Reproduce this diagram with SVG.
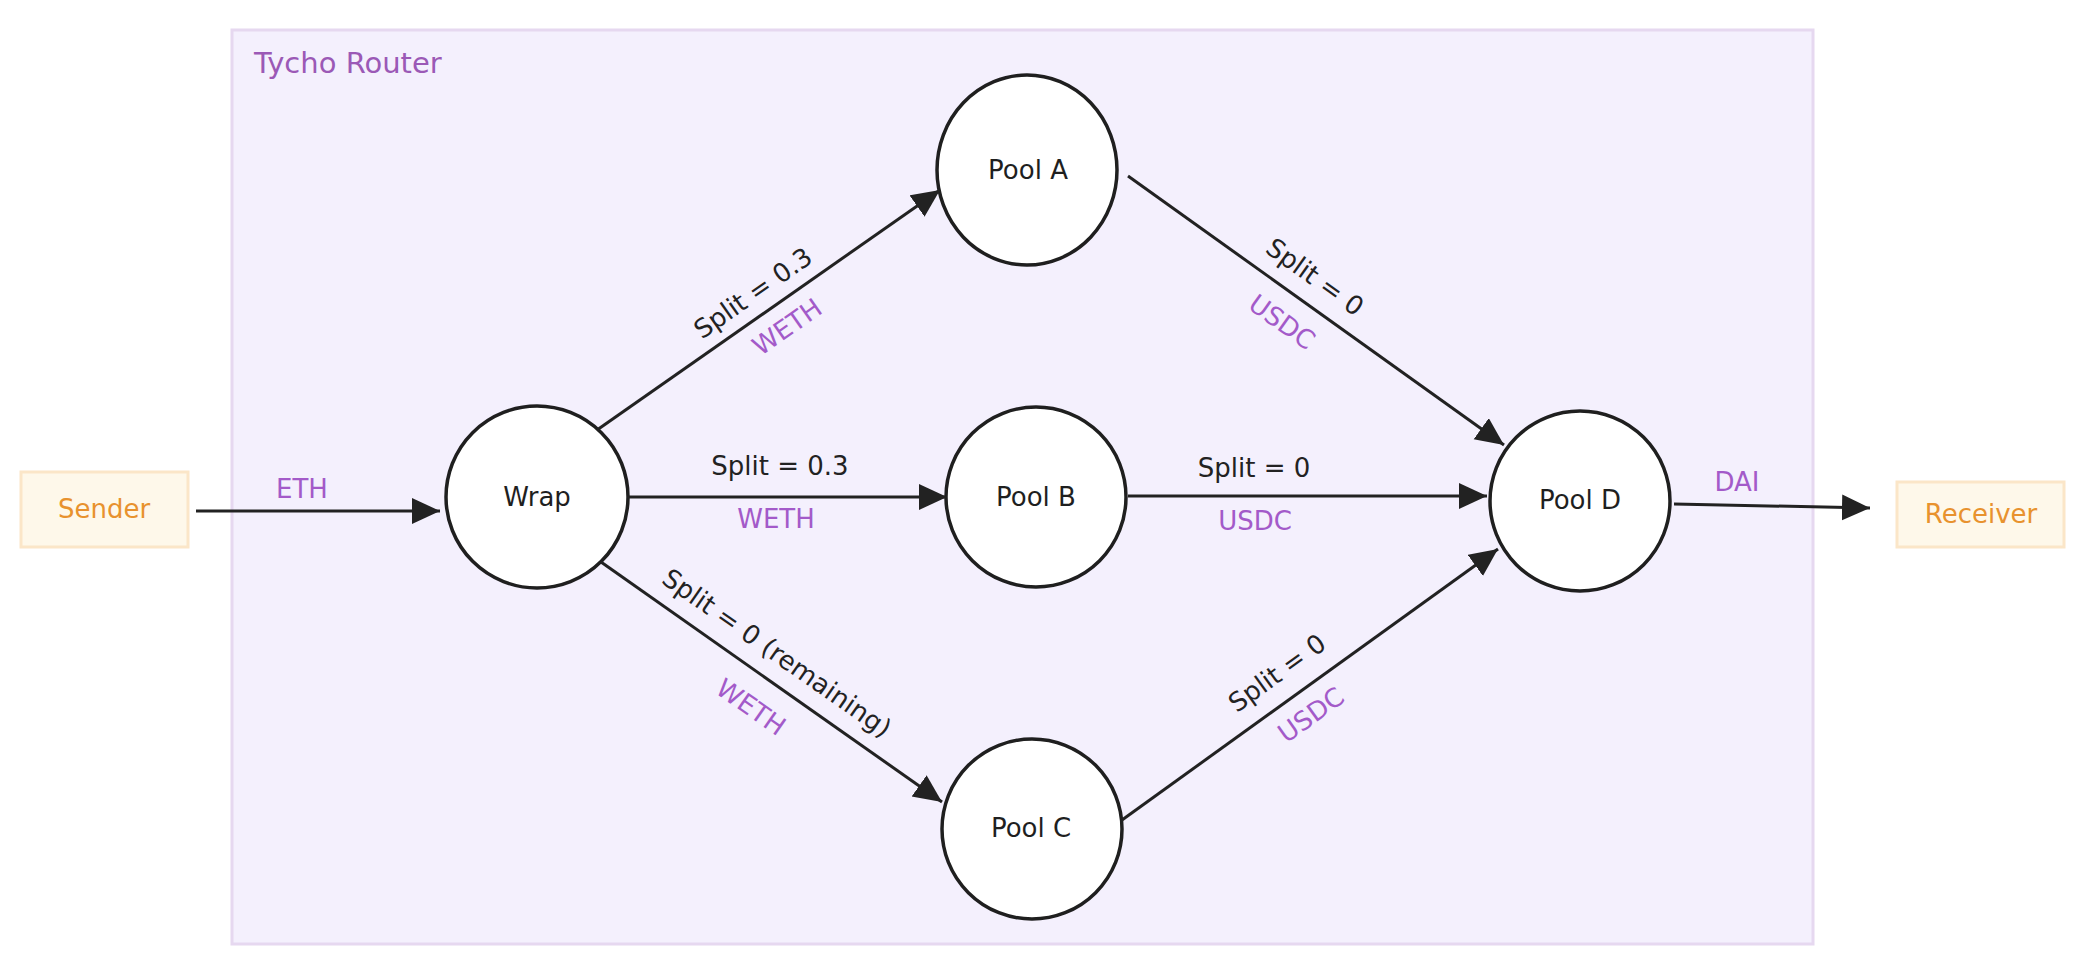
<svg xmlns="http://www.w3.org/2000/svg" width="2090" height="976" viewBox="0 0 2090 976">
  <defs>
    <marker id="arrow" markerUnits="userSpaceOnUse" markerWidth="30" markerHeight="28" refX="28" refY="13" orient="auto">
      <path d="M0,0 L28,13 L0,26 Z" fill="#222222"/>
    </marker>
    <style>
      text { font-family: "DejaVu Sans", "Liberation Sans", sans-serif; font-size: 26px; }
      .container { fill: #f4f0fd; stroke: #e6d8f0; stroke-width: 3; }
      .title { fill: #9b59b6; font-size: 29px; }
      .term rect { fill: #fef8ea; stroke: #fbe6c8; stroke-width: 3; }
      .term text { fill: #e8922e; text-anchor: middle; }
      .pool ellipse, .pool circle { fill: #ffffff; stroke: #1f1f1f; stroke-width: 3.5; }
      .pool text { fill: #1f1f1f; text-anchor: middle; }
      .edge { fill: none; stroke: #222222; stroke-width: 3; marker-end: url(#arrow); }
      .lbl { fill: #222222; text-anchor: middle; }
      .tok { fill: #a35ac9; text-anchor: middle; }
    </style>
  </defs>

  <rect width="2090" height="976" fill="#ffffff"/>

  <g id="tycho-router">
    <rect class="container" x="232" y="30" width="1581" height="914"/>
    <text class="title" x="254" y="73">Tycho Router</text>
  </g>

  <g id="node-sender" class="term">
    <rect x="21" y="472" width="167" height="75"/>
    <text x="104" y="518">Sender</text>
  </g>

  <g id="node-receiver" class="term">
    <rect x="1897" y="482" width="167" height="65"/>
    <text x="1981" y="523">Receiver</text>
  </g>

  <g id="node-wrap" class="pool">
    <circle cx="537" cy="497" r="91"/>
    <text x="537" y="506">Wrap</text>
  </g>

  <g id="node-pool-a" class="pool">
    <ellipse cx="1027" cy="170" rx="90" ry="95"/>
    <text x="1028" y="179">Pool A</text>
  </g>

  <g id="node-pool-b" class="pool">
    <circle cx="1036" cy="497" r="90"/>
    <text x="1036" y="506">Pool B</text>
  </g>

  <g id="node-pool-c" class="pool">
    <circle cx="1032" cy="829" r="90"/>
    <text x="1031" y="837">Pool C</text>
  </g>

  <g id="node-pool-d" class="pool">
    <circle cx="1580" cy="501" r="90"/>
    <text x="1580" y="509">Pool D</text>
  </g>

  <g id="connectors">
    <path class="edge" d="M196,511 L440,511"/>
    <path class="edge" d="M597,430 L940,190"/>
    <path class="edge" d="M627,497 L947,497"/>
    <path class="edge" d="M601,562 L942,802"/>
    <path class="edge" d="M1128,176 L1504,445"/>
    <path class="edge" d="M1128,496 L1487,496"/>
    <path class="edge" d="M1122,820 L1498,549"/>
    <path class="edge" d="M1674,504 L1870,508"/>

    <text class="tok" x="302" y="498">ETH</text>

    <text class="lbl" transform="translate(753,293) rotate(-35)" y="9">Split = 0.3</text>
    <text class="tok" transform="translate(787,327) rotate(-35)" y="9">WETH</text>

    <text class="lbl" x="780" y="475">Split = 0.3</text>
    <text class="tok" x="776" y="528">WETH</text>

    <text class="lbl" transform="translate(777,653) rotate(35)" y="9">Split = 0 (remaining)</text>
    <text class="tok" transform="translate(751,707) rotate(35)" y="9">WETH</text>

    <text class="lbl" transform="translate(1315,277) rotate(35.6)" y="9">Split = 0</text>
    <text class="tok" transform="translate(1282,322) rotate(35.6)" y="9">USDC</text>

    <text class="lbl" x="1254" y="477">Split = 0</text>
    <text class="tok" x="1255" y="530">USDC</text>

    <text class="lbl" transform="translate(1277,673) rotate(-35.8)" y="9">Split = 0</text>
    <text class="tok" transform="translate(1311,715) rotate(-35.8)" y="9">USDC</text>

    <text class="tok" x="1737" y="491">DAI</text>
  </g>
</svg>
